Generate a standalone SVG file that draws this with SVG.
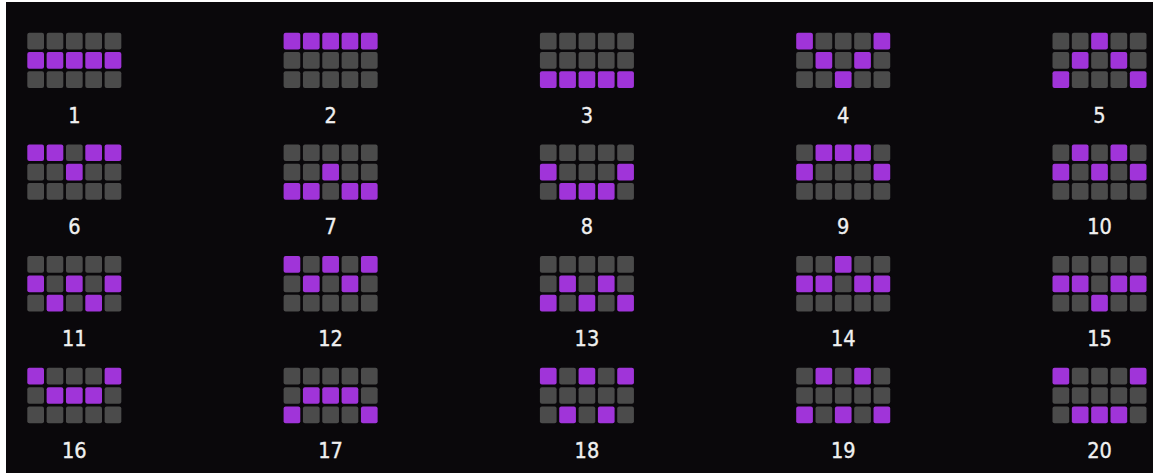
<svg xmlns="http://www.w3.org/2000/svg" width="1153" height="473" viewBox="0 0 1153 473">
<style>
.c{fill:#4b4b4b}
.p{fill:#a034d9}
.l{fill:#f0f0f0;font-family:"DejaVu Sans","Noto Sans",sans-serif;font-stretch:condensed;font-size:21.5px;text-anchor:middle;stroke:#f0f0f0;stroke-width:0.35px}
</style>
<defs>
<rect id="g" class="c" width="16.7" height="16.7" rx="2"/>
<rect id="q" class="p" width="16.7" height="16.7" rx="2"/>
</defs>
<rect width="1153" height="473" fill="#0a080b"/>
<rect width="6" height="473" fill="#ffffff"/>
<rect width="1153" height="2" fill="#ffffff"/>
<g id="p1" transform="translate(27.3,32.7)"><use href="#g" x="0" y="0"/><use href="#g" x="19.33" y="0"/><use href="#g" x="38.67" y="0"/><use href="#g" x="58" y="0"/><use href="#g" x="77.33" y="0"/><use href="#q" x="0" y="19.33"/><use href="#q" x="19.33" y="19.33"/><use href="#q" x="38.67" y="19.33"/><use href="#q" x="58" y="19.33"/><use href="#q" x="77.33" y="19.33"/><use href="#g" x="0" y="38.67"/><use href="#g" x="19.33" y="38.67"/><use href="#g" x="38.67" y="38.67"/><use href="#g" x="58" y="38.67"/><use href="#g" x="77.33" y="38.67"/><text class="l" x="47" y="90">1</text></g>
<g id="p2" transform="translate(283.6,32.7)"><use href="#q" x="0" y="0"/><use href="#q" x="19.33" y="0"/><use href="#q" x="38.67" y="0"/><use href="#q" x="58" y="0"/><use href="#q" x="77.33" y="0"/><use href="#g" x="0" y="19.33"/><use href="#g" x="19.33" y="19.33"/><use href="#g" x="38.67" y="19.33"/><use href="#g" x="58" y="19.33"/><use href="#g" x="77.33" y="19.33"/><use href="#g" x="0" y="38.67"/><use href="#g" x="19.33" y="38.67"/><use href="#g" x="38.67" y="38.67"/><use href="#g" x="58" y="38.67"/><use href="#g" x="77.33" y="38.67"/><text class="l" x="47" y="90">2</text></g>
<g id="p3" transform="translate(539.9,32.7)"><use href="#g" x="0" y="0"/><use href="#g" x="19.33" y="0"/><use href="#g" x="38.67" y="0"/><use href="#g" x="58" y="0"/><use href="#g" x="77.33" y="0"/><use href="#g" x="0" y="19.33"/><use href="#g" x="19.33" y="19.33"/><use href="#g" x="38.67" y="19.33"/><use href="#g" x="58" y="19.33"/><use href="#g" x="77.33" y="19.33"/><use href="#q" x="0" y="38.67"/><use href="#q" x="19.33" y="38.67"/><use href="#q" x="38.67" y="38.67"/><use href="#q" x="58" y="38.67"/><use href="#q" x="77.33" y="38.67"/><text class="l" x="47" y="90">3</text></g>
<g id="p4" transform="translate(796.2,32.7)"><use href="#q" x="0" y="0"/><use href="#g" x="19.33" y="0"/><use href="#g" x="38.67" y="0"/><use href="#g" x="58" y="0"/><use href="#q" x="77.33" y="0"/><use href="#g" x="0" y="19.33"/><use href="#q" x="19.33" y="19.33"/><use href="#g" x="38.67" y="19.33"/><use href="#q" x="58" y="19.33"/><use href="#g" x="77.33" y="19.33"/><use href="#g" x="0" y="38.67"/><use href="#g" x="19.33" y="38.67"/><use href="#q" x="38.67" y="38.67"/><use href="#g" x="58" y="38.67"/><use href="#g" x="77.33" y="38.67"/><text class="l" x="47" y="90">4</text></g>
<g id="p5" transform="translate(1052.5,32.7)"><use href="#g" x="0" y="0"/><use href="#g" x="19.33" y="0"/><use href="#q" x="38.67" y="0"/><use href="#g" x="58" y="0"/><use href="#g" x="77.33" y="0"/><use href="#g" x="0" y="19.33"/><use href="#q" x="19.33" y="19.33"/><use href="#g" x="38.67" y="19.33"/><use href="#q" x="58" y="19.33"/><use href="#g" x="77.33" y="19.33"/><use href="#q" x="0" y="38.67"/><use href="#g" x="19.33" y="38.67"/><use href="#g" x="38.67" y="38.67"/><use href="#g" x="58" y="38.67"/><use href="#q" x="77.33" y="38.67"/><text class="l" x="47" y="90">5</text></g>
<g id="p6" transform="translate(27.3,144.4)"><use href="#q" x="0" y="0"/><use href="#q" x="19.33" y="0"/><use href="#g" x="38.67" y="0"/><use href="#q" x="58" y="0"/><use href="#q" x="77.33" y="0"/><use href="#g" x="0" y="19.33"/><use href="#g" x="19.33" y="19.33"/><use href="#q" x="38.67" y="19.33"/><use href="#g" x="58" y="19.33"/><use href="#g" x="77.33" y="19.33"/><use href="#g" x="0" y="38.67"/><use href="#g" x="19.33" y="38.67"/><use href="#g" x="38.67" y="38.67"/><use href="#g" x="58" y="38.67"/><use href="#g" x="77.33" y="38.67"/><text class="l" x="47" y="90">6</text></g>
<g id="p7" transform="translate(283.6,144.4)"><use href="#g" x="0" y="0"/><use href="#g" x="19.33" y="0"/><use href="#g" x="38.67" y="0"/><use href="#g" x="58" y="0"/><use href="#g" x="77.33" y="0"/><use href="#g" x="0" y="19.33"/><use href="#g" x="19.33" y="19.33"/><use href="#q" x="38.67" y="19.33"/><use href="#g" x="58" y="19.33"/><use href="#g" x="77.33" y="19.33"/><use href="#q" x="0" y="38.67"/><use href="#q" x="19.33" y="38.67"/><use href="#g" x="38.67" y="38.67"/><use href="#q" x="58" y="38.67"/><use href="#q" x="77.33" y="38.67"/><text class="l" x="47" y="90">7</text></g>
<g id="p8" transform="translate(539.9,144.4)"><use href="#g" x="0" y="0"/><use href="#g" x="19.33" y="0"/><use href="#g" x="38.67" y="0"/><use href="#g" x="58" y="0"/><use href="#g" x="77.33" y="0"/><use href="#q" x="0" y="19.33"/><use href="#g" x="19.33" y="19.33"/><use href="#g" x="38.67" y="19.33"/><use href="#g" x="58" y="19.33"/><use href="#q" x="77.33" y="19.33"/><use href="#g" x="0" y="38.67"/><use href="#q" x="19.33" y="38.67"/><use href="#q" x="38.67" y="38.67"/><use href="#q" x="58" y="38.67"/><use href="#g" x="77.33" y="38.67"/><text class="l" x="47" y="90">8</text></g>
<g id="p9" transform="translate(796.2,144.4)"><use href="#g" x="0" y="0"/><use href="#q" x="19.33" y="0"/><use href="#q" x="38.67" y="0"/><use href="#q" x="58" y="0"/><use href="#g" x="77.33" y="0"/><use href="#q" x="0" y="19.33"/><use href="#g" x="19.33" y="19.33"/><use href="#g" x="38.67" y="19.33"/><use href="#g" x="58" y="19.33"/><use href="#q" x="77.33" y="19.33"/><use href="#g" x="0" y="38.67"/><use href="#g" x="19.33" y="38.67"/><use href="#g" x="38.67" y="38.67"/><use href="#g" x="58" y="38.67"/><use href="#g" x="77.33" y="38.67"/><text class="l" x="47" y="90">9</text></g>
<g id="p10" transform="translate(1052.5,144.4)"><use href="#g" x="0" y="0"/><use href="#q" x="19.33" y="0"/><use href="#g" x="38.67" y="0"/><use href="#q" x="58" y="0"/><use href="#g" x="77.33" y="0"/><use href="#q" x="0" y="19.33"/><use href="#g" x="19.33" y="19.33"/><use href="#q" x="38.67" y="19.33"/><use href="#g" x="58" y="19.33"/><use href="#q" x="77.33" y="19.33"/><use href="#g" x="0" y="38.67"/><use href="#g" x="19.33" y="38.67"/><use href="#g" x="38.67" y="38.67"/><use href="#g" x="58" y="38.67"/><use href="#g" x="77.33" y="38.67"/><text class="l" x="47" y="90">10</text></g>
<g id="p11" transform="translate(27.3,256.1)"><use href="#g" x="0" y="0"/><use href="#g" x="19.33" y="0"/><use href="#g" x="38.67" y="0"/><use href="#g" x="58" y="0"/><use href="#g" x="77.33" y="0"/><use href="#q" x="0" y="19.33"/><use href="#g" x="19.33" y="19.33"/><use href="#q" x="38.67" y="19.33"/><use href="#g" x="58" y="19.33"/><use href="#q" x="77.33" y="19.33"/><use href="#g" x="0" y="38.67"/><use href="#q" x="19.33" y="38.67"/><use href="#g" x="38.67" y="38.67"/><use href="#q" x="58" y="38.67"/><use href="#g" x="77.33" y="38.67"/><text class="l" x="47" y="90">11</text></g>
<g id="p12" transform="translate(283.6,256.1)"><use href="#q" x="0" y="0"/><use href="#g" x="19.33" y="0"/><use href="#q" x="38.67" y="0"/><use href="#g" x="58" y="0"/><use href="#q" x="77.33" y="0"/><use href="#g" x="0" y="19.33"/><use href="#q" x="19.33" y="19.33"/><use href="#g" x="38.67" y="19.33"/><use href="#q" x="58" y="19.33"/><use href="#g" x="77.33" y="19.33"/><use href="#g" x="0" y="38.67"/><use href="#g" x="19.33" y="38.67"/><use href="#g" x="38.67" y="38.67"/><use href="#g" x="58" y="38.67"/><use href="#g" x="77.33" y="38.67"/><text class="l" x="47" y="90">12</text></g>
<g id="p13" transform="translate(539.9,256.1)"><use href="#g" x="0" y="0"/><use href="#g" x="19.33" y="0"/><use href="#g" x="38.67" y="0"/><use href="#g" x="58" y="0"/><use href="#g" x="77.33" y="0"/><use href="#g" x="0" y="19.33"/><use href="#q" x="19.33" y="19.33"/><use href="#g" x="38.67" y="19.33"/><use href="#q" x="58" y="19.33"/><use href="#g" x="77.33" y="19.33"/><use href="#q" x="0" y="38.67"/><use href="#g" x="19.33" y="38.67"/><use href="#q" x="38.67" y="38.67"/><use href="#g" x="58" y="38.67"/><use href="#q" x="77.33" y="38.67"/><text class="l" x="47" y="90">13</text></g>
<g id="p14" transform="translate(796.2,256.1)"><use href="#g" x="0" y="0"/><use href="#g" x="19.33" y="0"/><use href="#q" x="38.67" y="0"/><use href="#g" x="58" y="0"/><use href="#g" x="77.33" y="0"/><use href="#q" x="0" y="19.33"/><use href="#q" x="19.33" y="19.33"/><use href="#g" x="38.67" y="19.33"/><use href="#q" x="58" y="19.33"/><use href="#q" x="77.33" y="19.33"/><use href="#g" x="0" y="38.67"/><use href="#g" x="19.33" y="38.67"/><use href="#g" x="38.67" y="38.67"/><use href="#g" x="58" y="38.67"/><use href="#g" x="77.33" y="38.67"/><text class="l" x="47" y="90">14</text></g>
<g id="p15" transform="translate(1052.5,256.1)"><use href="#g" x="0" y="0"/><use href="#g" x="19.33" y="0"/><use href="#g" x="38.67" y="0"/><use href="#g" x="58" y="0"/><use href="#g" x="77.33" y="0"/><use href="#q" x="0" y="19.33"/><use href="#q" x="19.33" y="19.33"/><use href="#g" x="38.67" y="19.33"/><use href="#q" x="58" y="19.33"/><use href="#q" x="77.33" y="19.33"/><use href="#g" x="0" y="38.67"/><use href="#g" x="19.33" y="38.67"/><use href="#q" x="38.67" y="38.67"/><use href="#g" x="58" y="38.67"/><use href="#g" x="77.33" y="38.67"/><text class="l" x="47" y="90">15</text></g>
<g id="p16" transform="translate(27.3,367.8)"><use href="#q" x="0" y="0"/><use href="#g" x="19.33" y="0"/><use href="#g" x="38.67" y="0"/><use href="#g" x="58" y="0"/><use href="#q" x="77.33" y="0"/><use href="#g" x="0" y="19.33"/><use href="#q" x="19.33" y="19.33"/><use href="#q" x="38.67" y="19.33"/><use href="#q" x="58" y="19.33"/><use href="#g" x="77.33" y="19.33"/><use href="#g" x="0" y="38.67"/><use href="#g" x="19.33" y="38.67"/><use href="#g" x="38.67" y="38.67"/><use href="#g" x="58" y="38.67"/><use href="#g" x="77.33" y="38.67"/><text class="l" x="47" y="90">16</text></g>
<g id="p17" transform="translate(283.6,367.8)"><use href="#g" x="0" y="0"/><use href="#g" x="19.33" y="0"/><use href="#g" x="38.67" y="0"/><use href="#g" x="58" y="0"/><use href="#g" x="77.33" y="0"/><use href="#g" x="0" y="19.33"/><use href="#q" x="19.33" y="19.33"/><use href="#q" x="38.67" y="19.33"/><use href="#q" x="58" y="19.33"/><use href="#g" x="77.33" y="19.33"/><use href="#q" x="0" y="38.67"/><use href="#g" x="19.33" y="38.67"/><use href="#g" x="38.67" y="38.67"/><use href="#g" x="58" y="38.67"/><use href="#q" x="77.33" y="38.67"/><text class="l" x="47" y="90">17</text></g>
<g id="p18" transform="translate(539.9,367.8)"><use href="#q" x="0" y="0"/><use href="#g" x="19.33" y="0"/><use href="#q" x="38.67" y="0"/><use href="#g" x="58" y="0"/><use href="#q" x="77.33" y="0"/><use href="#g" x="0" y="19.33"/><use href="#g" x="19.33" y="19.33"/><use href="#g" x="38.67" y="19.33"/><use href="#g" x="58" y="19.33"/><use href="#g" x="77.33" y="19.33"/><use href="#g" x="0" y="38.67"/><use href="#q" x="19.33" y="38.67"/><use href="#g" x="38.67" y="38.67"/><use href="#q" x="58" y="38.67"/><use href="#g" x="77.33" y="38.67"/><text class="l" x="47" y="90">18</text></g>
<g id="p19" transform="translate(796.2,367.8)"><use href="#g" x="0" y="0"/><use href="#q" x="19.33" y="0"/><use href="#g" x="38.67" y="0"/><use href="#q" x="58" y="0"/><use href="#g" x="77.33" y="0"/><use href="#g" x="0" y="19.33"/><use href="#g" x="19.33" y="19.33"/><use href="#g" x="38.67" y="19.33"/><use href="#g" x="58" y="19.33"/><use href="#g" x="77.33" y="19.33"/><use href="#q" x="0" y="38.67"/><use href="#g" x="19.33" y="38.67"/><use href="#q" x="38.67" y="38.67"/><use href="#g" x="58" y="38.67"/><use href="#q" x="77.33" y="38.67"/><text class="l" x="47" y="90">19</text></g>
<g id="p20" transform="translate(1052.5,367.8)"><use href="#q" x="0" y="0"/><use href="#g" x="19.33" y="0"/><use href="#g" x="38.67" y="0"/><use href="#g" x="58" y="0"/><use href="#q" x="77.33" y="0"/><use href="#g" x="0" y="19.33"/><use href="#g" x="19.33" y="19.33"/><use href="#g" x="38.67" y="19.33"/><use href="#g" x="58" y="19.33"/><use href="#g" x="77.33" y="19.33"/><use href="#g" x="0" y="38.67"/><use href="#q" x="19.33" y="38.67"/><use href="#q" x="38.67" y="38.67"/><use href="#q" x="58" y="38.67"/><use href="#g" x="77.33" y="38.67"/><text class="l" x="47" y="90">20</text></g>
</svg>
